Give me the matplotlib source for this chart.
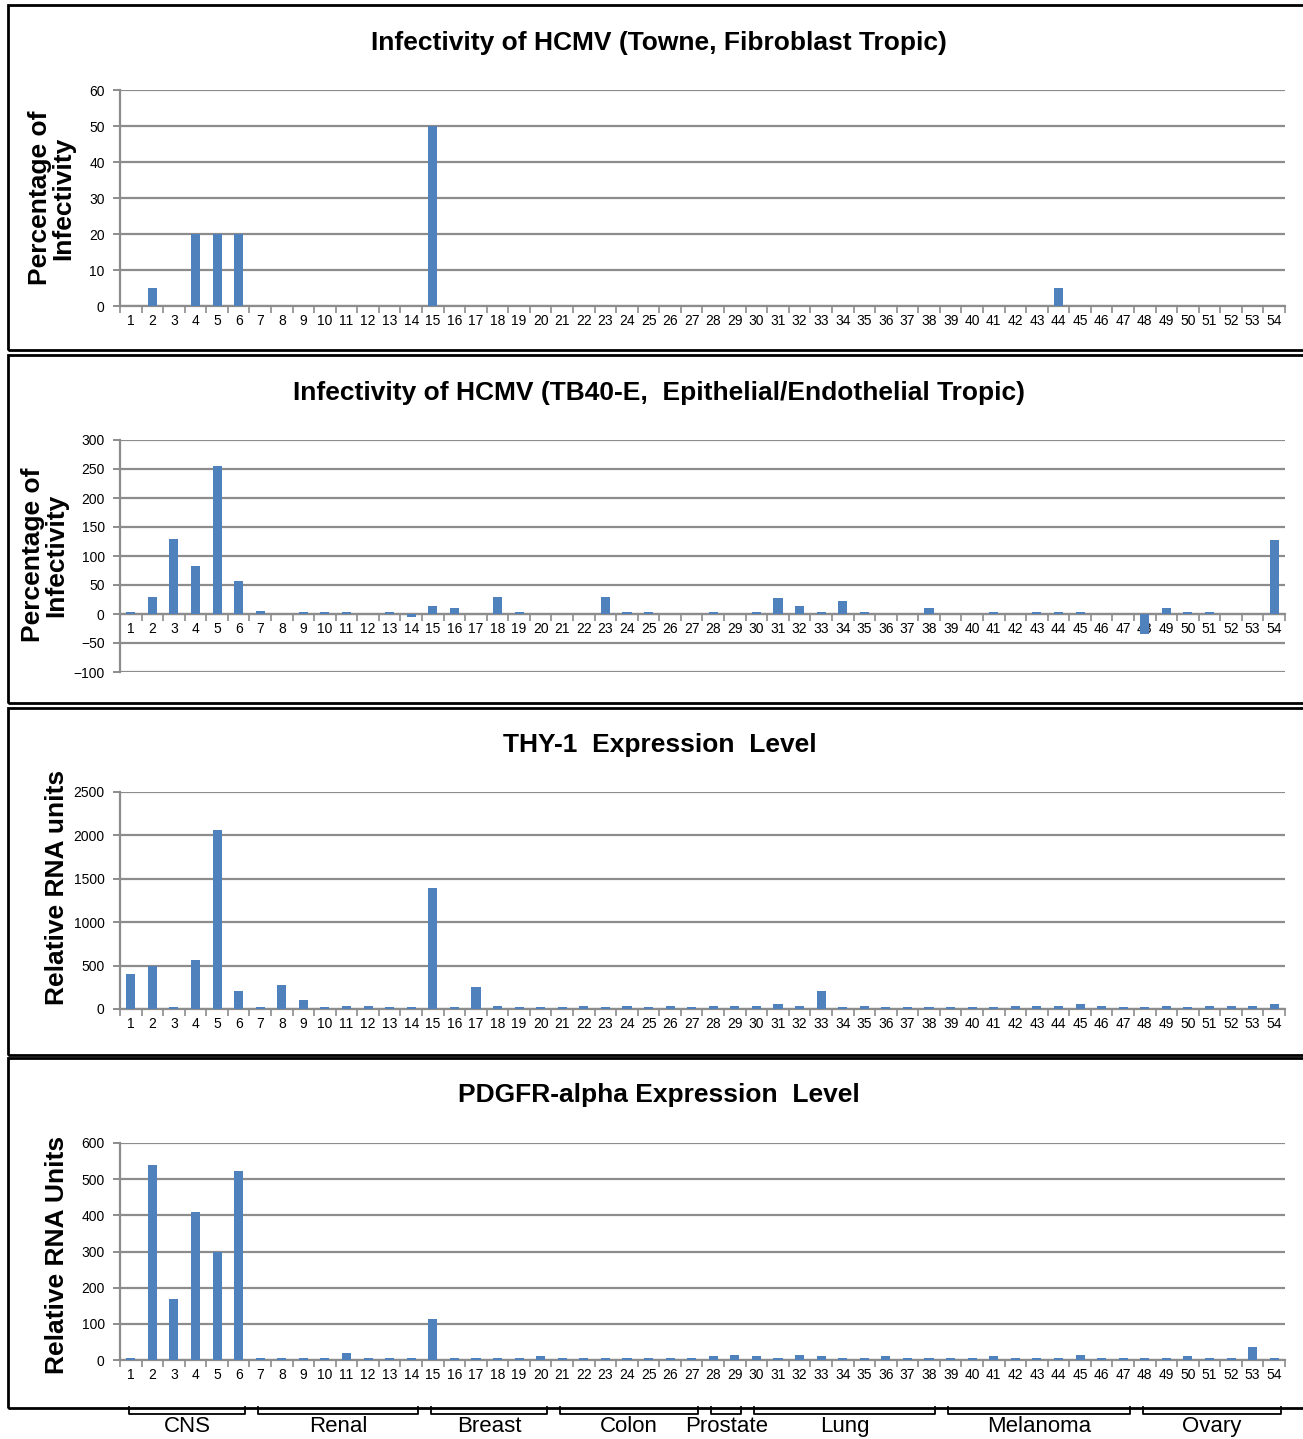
import matplotlib
matplotlib.use("Agg")
import matplotlib.pyplot as plt
import matplotlib.transforms as mtransforms
from matplotlib.patches import Rectangle
import numpy as np

plt.rcParams["font.family"] = ["Liberation Sans", "DejaVu Sans"]
NARROW = ["Liberation Sans Narrow", "Liberation Sans", "DejaVu Sans"]

cell_lines = list(range(1, 55))

towne = [0, 5, 0, 20, 20, 20, 0, 0, 0, 0, 0, 0, 0, 0, 50, 0, 0, 0, 0, 0,
         0, 0, 0, 0, 0, 0, 0, 0, 0, 0, 0, 0, 0, 0, 0, 0, 0, 0, 0, 0,
         0, 0, 0, 5, 0, 0, 0, 0, 0, 0, 0, 0, 0, 0]

tb40e = [3, 30, 130, 82, 255, 57, 6, 0, 3, 3, 3, 0, 3, -5, 14, 10, 0, 30, 3, 0,
         0, 0, 30, 3, 3, 0, 0, 3, 0, 3, 27, 14, 3, 23, 3, 0, 0, 10, 0, 0,
         3, 0, 3, 3, 3, 0, 0, -35, 10, 3, 3, 0, 0, 127]

thy1 = [400, 500, 20, 560, 2060, 210, 20, 280, 100, 20, 40, 40, 20, 20, 1390, 20, 250, 40, 20, 20,
        20, 40, 20, 40, 20, 40, 20, 40, 40, 40, 60, 40, 210, 20, 40, 20, 20, 20, 20, 20,
        20, 40, 40, 40, 60, 40, 20, 20, 40, 20, 40, 40, 40, 60]

pdgfra = [5, 540, 168, 410, 300, 522, 5, 5, 5, 5, 18, 5, 5, 5, 112, 5, 5, 5, 5, 10,
          5, 5, 5, 5, 5, 5, 5, 10, 15, 10, 5, 15, 10, 5, 5, 10, 5, 5, 5, 5,
          10, 5, 5, 5, 15, 5, 5, 5, 5, 10, 5, 5, 35, 5]

tissues = ["CNS", "Renal", "Breast", "Colon", "Prostate", "Lung", "Melanoma", "Ovary"]
tissue_first = [1, 7, 15, 21, 28, 30, 39, 48]
tissue_last = [6, 14, 20, 27, 29, 38, 47, 54]

panels = [
    ("Infectivity of HCMV (Towne, Fibroblast Tropic)", "Percentage of\nInfectivity",
     towne, (0, 60), 10),
    ("Infectivity of HCMV (TB40-E,  Epithelial/Endothelial Tropic)", "Percentage of\nInfectivity",
     tb40e, (-100, 300), 50),
    ("THY-1  Expression  Level", "Relative RNA units", thy1, (0, 2500), 500),
    ("PDGFR-alpha Expression  Level", "Relative RNA Units", pdgfra, (0, 600), 100),
]

W, H = 1303, 1439
fig = plt.figure(figsize=(W / 100, H / 100), dpi=100)

# pixel layout: (axes top, axes bottom, title y, ylabel x, ylabel y, frame top, frame bottom)
layout = [
    (90, 306, 43, 52, 198, 5, 350),
    (440, 672, 393, 45, 555, 355, 703),
    (792, 1009, 745, 57, 887, 708, 1055),
    (1143, 1360, 1095, 57, 1255, 1058, 1408),
]

BLUE = "#4F81BD"
GRID = "#8c8c8c"
x = np.array(cell_lines)
axes = []
for (title, ylab, vals, ylim, step), (top, bot, ty, lx, ly, ft, fb) in zip(panels, layout):
    ax = fig.add_axes([120 / W, 1 - bot / H, (1285 - 120) / W, (bot - top) / H])
    ax.bar(x, vals, width=0.42, color=BLUE, zorder=3)
    ax.set_xlim(0.5, 54.5)
    ax.set_ylim(*ylim)
    ax.set_yticks(np.arange(ylim[0], ylim[1] + 1, step))
    ax.yaxis.grid(True, color=GRID, lw=1.6, zorder=0)
    for s in ["top", "right"]:
        ax.spines[s].set_visible(False)
    ax.spines["left"].set_color(GRID)
    ax.spines["left"].set_linewidth(1.6)
    ax.spines["bottom"].set_position(("data", 0))
    ax.spines["bottom"].set_color(GRID)
    ax.spines["bottom"].set_linewidth(1.6)
    ax.set_xticks(x)
    ax.set_xticklabels([str(i) for i in cell_lines], fontsize=10, family=NARROW)
    ax.set_xticks(np.arange(0.5, 55, 1), minor=True)
    ax.tick_params(axis="x", which="major", length=0, pad=6)
    ax.tick_params(axis="x", which="minor", length=5, color=GRID, width=1.2)
    ax.tick_params(axis="y", length=5, color=GRID, width=1.4, labelsize=10, pad=6)
    for lab in ax.get_yticklabels():
        lab.set_family(NARROW)
    fig.text(0.506, 1 - ty / H, title, ha="center", va="center",
             fontsize=19, fontweight="bold")
    fig.text(lx / W, 1 - ly / H, ylab, ha="center", va="center", rotation=90,
             fontsize=19, fontweight="bold", linespacing=0.95)
    fig.patches.append(Rectangle((8 / W, 1 - fb / H), (1320 - 8) / W, (fb - ft) / H,
                                 transform=fig.transFigure, fill=False,
                                 edgecolor="black", lw=2))
    axes.append(ax)

# tissue brackets under the last panel
ax4 = axes[-1]
tr = mtransforms.blended_transform_factory(ax4.transData, fig.transFigure)
y_top = 1 - 1407 / H
y_bot = 1 - 1414 / H
for name, a, b in zip(tissues, tissue_first, tissue_last):
    x0, x1 = a - 0.1, b + 0.3
    fig.add_artist(plt.Line2D([x0, x0, x1, x1], [y_top, y_bot, y_bot, y_top],
                              transform=tr, color="black", lw=1.3))
    fig.text((x0 + x1) / 2, 1 - 1437 / H, name, transform=tr, ha="center",
             va="bottom", fontsize=16, family=NARROW)

fig.savefig("out.png", dpi=100)
